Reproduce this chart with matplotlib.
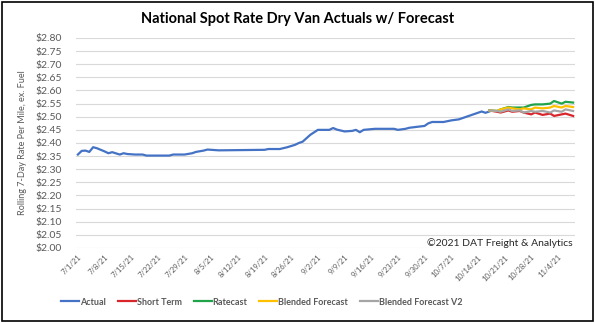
import numpy as np
import pandas as pd
import matplotlib
matplotlib.use("Agg")
import matplotlib.pyplot as plt
from matplotlib.patches import Rectangle

# Actual rolling 7-day rate
actual_dates = [
    "2021-07-01", "2021-07-02", "2021-07-03", "2021-07-04", "2021-07-05", "2021-07-06",
    "2021-07-08", "2021-07-09", "2021-07-10", "2021-07-12", "2021-07-13", "2021-07-14",
    "2021-07-16", "2021-07-18", "2021-07-19", "2021-07-25", "2021-07-26", "2021-07-29",
    "2021-07-31", "2021-08-01", "2021-08-03", "2021-08-04", "2021-08-05", "2021-08-07",
    "2021-08-13", "2021-08-19", "2021-08-20", "2021-08-23", "2021-08-25", "2021-08-27",
    "2021-08-28", "2021-08-29", "2021-08-30", "2021-08-31", "2021-09-02", "2021-09-05",
    "2021-09-06", "2021-09-07", "2021-09-09", "2021-09-11", "2021-09-12", "2021-09-13",
    "2021-09-14", "2021-09-17", "2021-09-22", "2021-09-23", "2021-09-25", "2021-09-26",
    "2021-09-30", "2021-10-01", "2021-10-02", "2021-10-05", "2021-10-07", "2021-10-09",
    "2021-10-11", "2021-10-13", "2021-10-15", "2021-10-16", "2021-10-17",
]
actual = [
    2.356, 2.370, 2.371, 2.366, 2.384, 2.380,
    2.368, 2.361, 2.365, 2.356, 2.361, 2.358,
    2.356, 2.356, 2.352, 2.352, 2.356, 2.356,
    2.361, 2.366, 2.371, 2.375, 2.374, 2.372,
    2.373, 2.374, 2.377, 2.377, 2.384, 2.393,
    2.400, 2.405, 2.418, 2.431, 2.450, 2.450,
    2.457, 2.451, 2.444, 2.446, 2.450, 2.441,
    2.450, 2.454, 2.454, 2.450, 2.454, 2.458,
    2.465, 2.475, 2.480, 2.480, 2.486, 2.490,
    2.500, 2.510, 2.520, 2.515, 2.520,
]

# Forecasts
fc_dates = [
    "2021-10-17", "2021-10-19", "2021-10-20", "2021-10-22", "2021-10-23", "2021-10-25",
    "2021-10-26", "2021-10-28", "2021-10-29", "2021-10-31", "2021-11-02", "2021-11-03",
    "2021-11-05", "2021-11-06", "2021-11-08",
]
short_term = [2.524, 2.519, 2.516, 2.524, 2.519, 2.522, 2.516, 2.509, 2.516, 2.507,
              2.512, 2.503, 2.509, 2.512, 2.503]
ratecast = [2.524, 2.522, 2.528, 2.537, 2.535, 2.535, 2.535, 2.545, 2.547, 2.547,
            2.550, 2.560, 2.550, 2.557, 2.554]
blended = [2.524, 2.522, 2.528, 2.535, 2.532, 2.528, 2.532, 2.528, 2.535, 2.532,
           2.535, 2.541, 2.535, 2.541, 2.537]
blended_v2 = [2.524, 2.522, 2.519, 2.528, 2.522, 2.524, 2.516, 2.522, 2.519, 2.522,
              2.516, 2.524, 2.519, 2.528, 2.522]

yticks = np.arange(2.00, 2.801, 0.05)
tick_dates = pd.date_range("2021-07-01", "2021-11-04", freq="7D")

plt.rcParams["font.family"] = ["Lato", "DejaVu Sans"]

fig = plt.figure(figsize=(5.95, 3.23), dpi=100)
ax = fig.add_axes([0.1277, 0.2322, 0.9664 - 0.1277, 0.8824 - 0.2322])

ad = pd.to_datetime(actual_dates)
fd = pd.to_datetime(fc_dates)
ax.plot(ad, actual, color="#4472C4", lw=1.6, label="Actual", zorder=3)
ax.plot(fd, short_term, color="#D9262C", lw=1.6, label="Short Term", zorder=3)
ax.plot(fd, ratecast, color="#21A34A", lw=1.6, label="Ratecast", zorder=3)
ax.plot(fd, blended, color="#FFC000", lw=1.6, label="Blended Forecast", zorder=3)
ax.plot(fd, blended_v2, color="#A5A5A5", lw=1.6, label="Blended Forecast V2", zorder=3)

ax.set_ylim(2.00, 2.80)
ax.set_yticks(yticks)
ax.set_yticklabels([f"${v:.2f}" for v in yticks])
ax.set_xlim(pd.Timestamp("2021-07-01") - pd.Timedelta(hours=12),
            pd.Timestamp("2021-11-08") + pd.Timedelta(hours=12))
ax.set_xticks(tick_dates)
ax.set_xticklabels([f"{d.month}/{d.day}/21" for d in tick_dates],
                   rotation=45, ha="right", rotation_mode="anchor")

ax.grid(axis="y", color="#D9D9D9", lw=0.8)
ax.set_axisbelow(True)
for s in ax.spines.values():
    s.set_visible(False)
ax.tick_params(axis="both", length=0, colors="#595959")
ax.tick_params(axis="y", labelsize=7.5, pad=10)
ax.tick_params(axis="x", labelsize=5.5, pad=4)

ax.set_ylabel("Rolling 7-Day Rate Per Mile, ex. Fuel", fontsize=6.5, color="#595959",
              labelpad=6)

fig.text(0.5, 0.94, "National Spot Rate Dry Van Actuals w/ Forecast", ha="center",
         va="center", fontsize=10.5, fontweight="bold", color="black")
ax.text(0.995, 0.025, "\u00a92021 DAT Freight & Analytics", transform=ax.transAxes,
        ha="right", va="center", fontsize=7.5, color="#262626")

leg = fig.legend(loc="center", bbox_to_anchor=(0.44, 0.065), ncol=5, frameon=False,
                 fontsize=6.5, handlelength=2.0, handletextpad=0.1, columnspacing=1.3)
for t in leg.get_texts():
    t.set_color("#595959")
    t.set_fontweight("bold")

fig.patches.append(Rectangle((0.004, 0.006), 0.992, 0.988, transform=fig.transFigure,
                             fill=False, edgecolor="black", lw=1.2))

fig.savefig("out.png", dpi=100)
